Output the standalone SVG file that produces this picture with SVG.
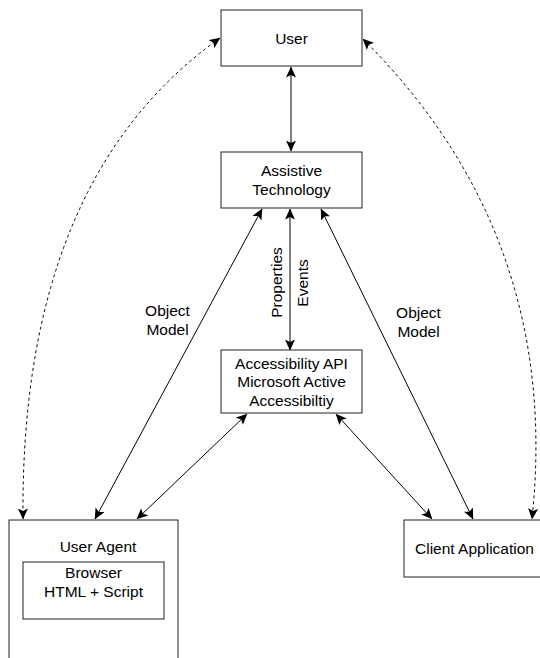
<svg xmlns="http://www.w3.org/2000/svg" width="540" height="658" viewBox="0 0 540 658">
<style>
.box{fill:#fff;stroke:#222;stroke-width:1}
.t{font-family:"Liberation Sans",Arial,sans-serif;font-size:15.5px;fill:#000;text-anchor:middle}
.ln{fill:none;stroke:#000;stroke-width:1;marker-start:url(#ah);marker-end:url(#ah)}
.dash{stroke-dasharray:3 3}
</style>
<defs>
<marker id="ah" viewBox="0 0 11 10" refX="10.5" refY="5" markerWidth="11" markerHeight="10" markerUnits="userSpaceOnUse" orient="auto-start-reverse">
<path d="M0,0 L11,5 L0,10 L2.5,5 z" fill="#000"/>
</marker>
</defs>
<rect width="540" height="658" fill="#fff"/>
<g id="connectors">
<path class="ln" d="M291,67 L291,151"/>
<path class="ln" d="M290,209 L290,350"/>
<path class="ln" d="M262,209 L95,519"/>
<path class="ln" d="M321,209 L473,519"/>
<path class="ln" d="M247,414 L137,519"/>
<path class="ln" d="M336,414 L432,519"/>
<path class="ln dash" d="M220,38 Q20,180 23,519"/>
<path class="ln dash" d="M363,39 Q562,237 532,519"/>
</g>
<g id="labels">
<text class="t" x="167.5" y="315.5">Object</text>
<text class="t" x="167.5" y="334.5">Model</text>
<text class="t" x="418.5" y="317.5">Object</text>
<text class="t" x="418.5" y="336.5">Model</text>
<text class="t" transform="translate(281.5,282.5) rotate(-90)" x="0" y="0">Properties</text>
<text class="t" transform="translate(308.3,283) rotate(-90)" x="0" y="0">Events</text>
</g>
<g id="user">
<rect class="box" x="221" y="10" width="141" height="56"/>
<text class="t" x="291.5" y="43.5">User</text>
</g>
<g id="assistive-technology">
<rect class="box" x="221" y="152" width="141" height="56"/>
<text class="t" x="291.5" y="176">Assistive</text>
<text class="t" x="291.5" y="194.5">Technology</text>
</g>
<g id="accessibility-api">
<rect class="box" x="221" y="350" width="141" height="63"/>
<text class="t" x="291.5" y="368.5">Accessibility API</text>
<text class="t" x="291.5" y="387">Microsoft Active</text>
<text class="t" x="291.5" y="405.5">Accessibiltiy</text>
</g>
<g id="user-agent">
<rect class="box" x="9" y="520" width="169" height="160"/>
<text class="t" x="98" y="551.5">User Agent</text>
<g id="browser">
<rect class="box" x="23" y="562" width="141" height="57"/>
<text class="t" x="93.5" y="577.5">Browser</text>
<text class="t" x="93.5" y="596.5">HTML + Script</text>
</g>
</g>
<g id="client-application">
<rect class="box" x="404" y="520" width="141" height="57"/>
<text class="t" x="474.5" y="554">Client Application</text>
</g>
</svg>
